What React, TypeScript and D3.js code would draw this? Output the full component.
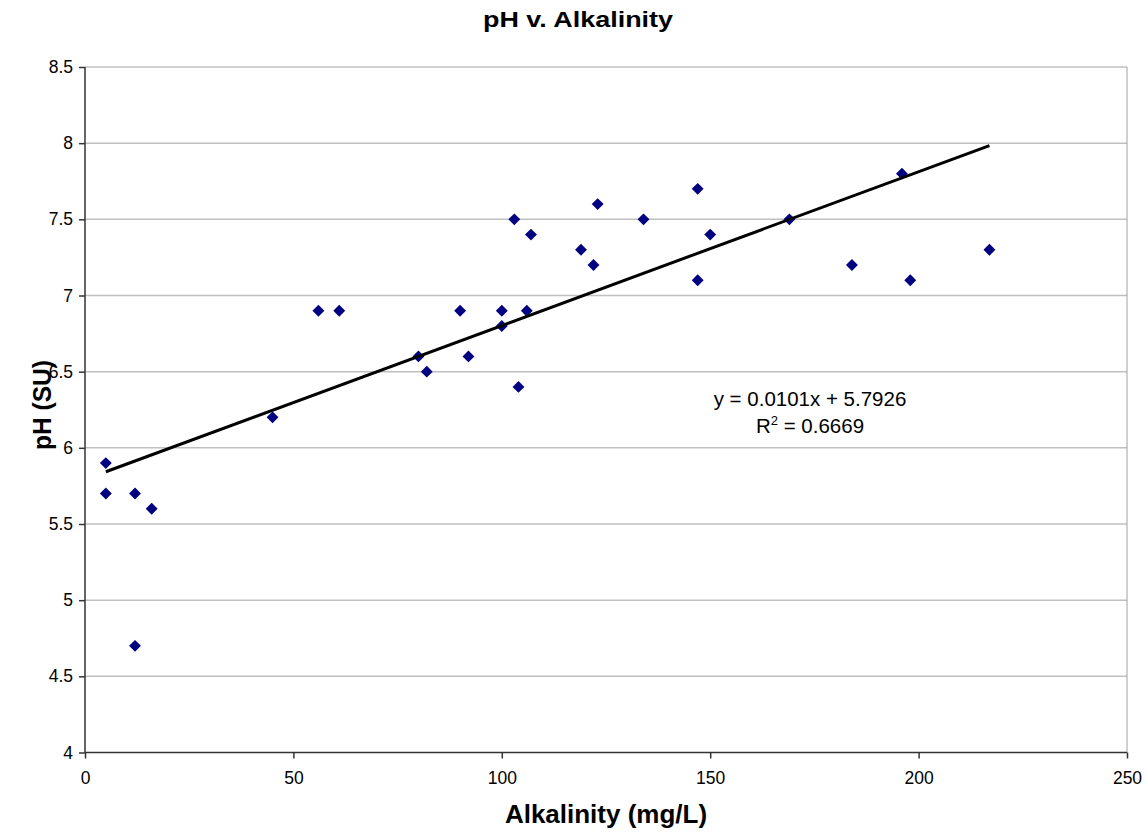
import { useRef, useEffect } from "react";
import * as d3 from "d3";

const alkalinity = [5, 5, 12, 16, 12, 45, 56, 61, 80, 82, 90, 92, 100, 100, 103, 104, 106, 107, 119, 122, 123, 134, 147, 147, 150, 169, 184, 196, 198, 217];
const ph = [5.9, 5.7, 5.7, 5.6, 4.7, 6.2, 6.9, 6.9, 6.6, 6.5, 6.9, 6.6, 6.9, 6.8, 7.5, 6.4, 6.9, 7.4, 7.3, 7.2, 7.6, 7.5, 7.7, 7.1, 7.4, 7.5, 7.2, 7.8, 7.1, 7.3];
const xTicks = [0, 50, 100, 150, 200, 250];
const yTicks = [4, 4.5, 5, 5.5, 6, 6.5, 7, 7.5, 8, 8.5];
const slope = 0.0101;
const intercept = 5.7926;
const trendRange = [5, 217];

export default function App() {
  const svgRef = useRef<SVGSVGElement>(null);

  useEffect(() => {
    if (!svgRef.current) return;
    const svg = d3.select(svgRef.current);
    svg.selectAll("*").remove();

    const font = "Liberation Sans, Arial, sans-serif";
    const left = 85, right = 1127, top = 67, bottom = 752.5;

    const x = d3.scaleLinear().domain([0, 250]).range([left, right]);
    const y = d3.scaleLinear().domain([4, 8.5]).range([bottom, top]);

    // gridlines
    svg.append("g")
      .selectAll("line")
      .data(yTicks.filter((t) => t > 4))
      .enter()
      .append("line")
      .attr("x1", left)
      .attr("x2", right)
      .attr("y1", (d) => y(d))
      .attr("y2", (d) => y(d))
      .attr("stroke", "#c0c0c0")
      .attr("stroke-width", 1.5);

    // right border
    svg.append("line")
      .attr("x1", right).attr("x2", right)
      .attr("y1", top).attr("y2", bottom)
      .attr("stroke", "#a0a0a0").attr("stroke-width", 1);

    const yAxis = svg.append("g")
      .attr("transform", `translate(${left},0)`)
      .call(d3.axisLeft(y).tickValues(yTicks).tickSize(6).tickPadding(6).tickFormat((d) => String(d)));
    const xAxis = svg.append("g")
      .attr("transform", `translate(0,${bottom})`)
      .call(d3.axisBottom(x).tickValues(xTicks).tickSize(6).tickPadding(13).tickFormat((d) => String(d)));

    [yAxis, xAxis].forEach((a) => {
      a.attr("font-size", 17.5).attr("font-family", font);
      a.select(".domain").attr("stroke", "#333").attr("stroke-width", 1.5);
      a.selectAll(".tick line").attr("stroke", "#333").attr("stroke-width", 1.5);
      a.selectAll("text").attr("fill", "#000");
    });
    yAxis.select(".domain").attr("d", `M0,${bottom}V${top}`);
    xAxis.select(".domain").attr("d", `M${left},0H${right}`);

    // points
    svg.append("g")
      .selectAll("path")
      .data(alkalinity.map((a, i) => [a, ph[i]]))
      .enter()
      .append("path")
      .attr("d", d3.symbol(d3.symbolDiamond2, 90)())
      .attr("transform", (d) => `translate(${x(d[0])},${y(d[1])})`)
      .attr("fill", "#000080");

    // trend line
    svg.append("line")
      .attr("x1", x(trendRange[0]))
      .attr("y1", y(slope * trendRange[0] + intercept))
      .attr("x2", x(trendRange[1]))
      .attr("y2", y(slope * trendRange[1] + intercept))
      .attr("stroke", "#000")
      .attr("stroke-width", 3);

    // equation
    const eq = svg.append("g").attr("font-family", font).attr("font-size", 20.5).attr("text-anchor", "middle");
    eq.append("text").attr("x", 810).attr("y", 406).text(`y = ${slope}x + ${intercept}`);
    const r2 = eq.append("text").attr("x", 810).attr("y", 433);
    r2.append("tspan").text("R");
    r2.append("tspan").attr("font-size", 13).attr("dy", -8).text("2");
    r2.append("tspan").attr("dy", 8).text(" = 0.6669");

    // titles
    svg.append("text")
      .attr("x", 483).attr("y", 27)
      .attr("textLength", 190).attr("lengthAdjust", "spacingAndGlyphs")
      .attr("font-family", font).attr("font-weight", "bold").attr("font-size", 21.5)
      .text("pH v. Alkalinity");
    svg.append("text")
      .attr("x", 606).attr("y", 823)
      .attr("text-anchor", "middle")
      .attr("font-family", font).attr("font-weight", "bold").attr("font-size", 26)
      .text("Alkalinity (mg/L)");
    svg.append("text")
      .attr("transform", "translate(51,450) rotate(-90)")
      .attr("textLength", 90).attr("lengthAdjust", "spacingAndGlyphs")
      .attr("font-family", font).attr("font-weight", "bold").attr("font-size", 26)
      .text("pH (SU)");
  }, []);

  return (
    <svg
      ref={svgRef}
      width={1146}
      height={832}
      style={{ position: "absolute", left: 0, top: 0, background: "#fff" }}
    />
  );
}
